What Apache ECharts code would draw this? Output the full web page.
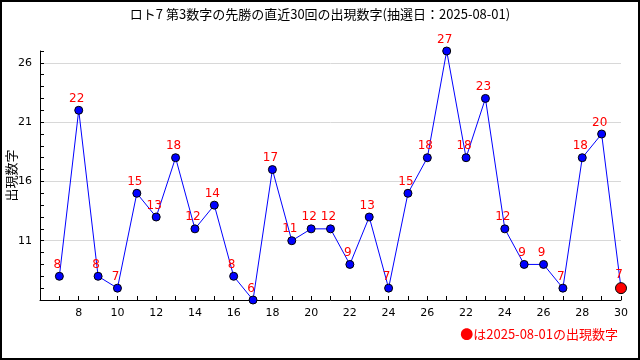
<!DOCTYPE html>
<html><head><meta charset="utf-8">
<script src="https://cdn.jsdelivr.net/npm/echarts@6/dist/echarts.min.js"></script>
<style>html,body{margin:0;padding:0;background:#fff}#c{width:640px;height:360px}</style>
</head><body><div id="c"></div>
<script>
const titleText = 'ロト7 第3数字の先勝の直近30回の出現数字(抽選日：2025-08-01)';
const yAxisName = '出現数字';
const noteText = '●は2025-08-01の出現数字';
// x tick labels as printed in the reference (one per draw)
const categories = ['7','8','9','10','11','12','13','14','15','16','17','18','19','20','21','22','23','24','25','26','21','22','23','24','25','26','27','28','29','30'];
const values = [8,22,8,7,15,13,18,12,14,8,6,17,11,12,12,9,13,7,15,18,27,18,23,12,9,9,7,18,20,7];
const yLabels = [11,16,21,26];
const yMin = 6, yMax = 27;

const chart = echarts.init(document.getElementById('c'), null, {renderer:'canvas'});
const cats = [''].concat(categories);
const seriesData = [null].concat(values.map((v,i)=> i===values.length-1 ?
  {value:v, symbolSize:11, itemStyle:{color:'#ff0000', borderColor:'#000', borderWidth:1}} : v));
const font = 'DejaVu Sans';
chart.setOption({
  animation:false,
  title:{text:titleText, left:'center', top:3, textStyle:{fontFamily:'Noto Sans CJK JP', fontSize:13, fontWeight:'normal', color:'#000'}},
  graphic:[
    {type:'rect', shape:{x:1, y:1, width:638, height:358}, style:{fill:null, stroke:'#000', lineWidth:2}, silent:true},
    {type:'text', right:22, top:328, style:{text:noteText, fill:'#ff0000', font:'13px "Noto Sans CJK JP"'}}
  ],
  grid:{left:40, right:19, top:51, bottom:60, containLabel:false, outerBoundsMode:'none'},
  xAxis:{type:'category', data:cats, boundaryGap:false,
    axisLine:{lineStyle:{color:'#000', width:1}},
    axisTick:{show:true, inside:true, length:4, interval:0, lineStyle:{color:'#000'}},
    axisLabel:{interval:(i)=> i>0 && i%2===0, color:'#000', fontFamily:font, fontSize:11, margin:8},
    splitLine:{show:false}},
  yAxis:{type:'value', min:yMin, max:yMax, interval:1,
    name:yAxisName, nameLocation:'middle', nameGap:22, nameRotate:90, nameMoveOverlap:false,
    nameTextStyle:{fontFamily:'Noto Sans CJK JP', fontSize:13, color:'#000'},
    axisLine:{show:true, lineStyle:{color:'#000', width:1}},
    axisTick:{show:true, inside:true, length:4, lineStyle:{color:'#000'}},
    axisLabel:{color:'#000', fontFamily:font, fontSize:11, margin:8,
      formatter:(v)=> yLabels.includes(v) ? String(v) : ''},
    splitLine:{show:false}},
  series:[{
    type:'line', data:seriesData, connectNulls:false,
    symbol:'circle', symbolSize:8,
    lineStyle:{color:'#0000ff', width:1},
    itemStyle:{color:'#0000ff', borderColor:'#000', borderWidth:1},
    label:{show:true, position:'top', distance:1, offset:[-2,0], color:'#ff0000', fontFamily:font, fontSize:12},
    markLine:{silent:true, symbol:'none', label:{show:false}, animation:false, z:0,
      lineStyle:{color:'#d8d8d8', type:'solid', width:1},
      emphasis:{disabled:true},
      data: yLabels.map(v=>({yAxis:v}))},
    z:3
  }]
});
</script></body></html>
